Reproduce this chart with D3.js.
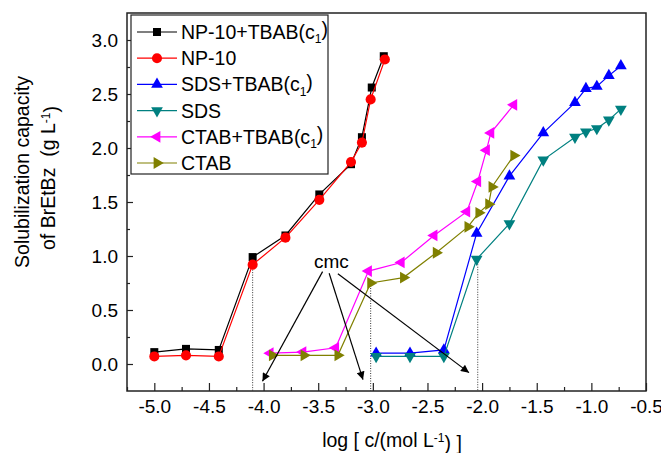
<!DOCTYPE html>
<html>
<head>
<meta charset="utf-8">
<script src="https://cdn.jsdelivr.net/npm/d3@7"></script>
<style>
  body { margin: 0; background: #fff; }
  svg text { font-family: "Liberation Sans", Arial, sans-serif; fill: #000; }
</style>
</head>
<body>
<script>
// values: [log c, capacity]
var npTbab = [[-5.0,0.11],[-4.71,0.14],[-4.41,0.13],[-4.10,0.99],[-3.80,1.19],[-3.49,1.57],[-3.20,1.85],[-3.10,2.10],[-3.01,2.56],[-2.90,2.85]];
var np10 = [[-5.0,0.07],[-4.71,0.08],[-4.41,0.07],[-4.10,0.92],[-3.80,1.17],[-3.49,1.52],[-3.20,1.87],[-3.10,2.05],[-3.02,2.45],[-2.89,2.82]];
var sdsTbab = [[-2.97,0.10],[-2.66,0.10],[-2.35,0.13],[-2.05,1.21],[-1.75,1.74],[-1.44,2.14],[-1.15,2.42],[-1.05,2.55],[-0.95,2.57],[-0.84,2.67],[-0.73,2.76]];
var sds = [[-2.97,0.07],[-2.66,0.07],[-2.35,0.07],[-2.05,0.97],[-1.75,1.30],[-1.44,1.89],[-1.15,2.10],[-1.05,2.15],[-0.95,2.18],[-0.84,2.26],[-0.73,2.36]];
var ctabTbab = [[-3.94,0.10],[-3.64,0.11],[-3.34,0.15],[-3.04,0.86],[-2.74,0.94],[-2.44,1.19],[-2.14,1.41],[-2.04,1.69],[-1.96,1.98],[-1.92,2.14],[-1.71,2.40]];
var ctab = [[-3.92,0.08],[-3.63,0.08],[-3.32,0.08],[-3.02,0.75],[-2.72,0.80],[-2.42,1.03],[-2.13,1.27],[-2.03,1.40],[-1.94,1.48],[-1.91,1.64],[-1.71,1.93]];

var seriesNames = ["NP-10+TBAB(c", "NP-10", "SDS+TBAB(c", "SDS", "CTAB+TBAB(c", "CTAB"];
var seriesSub = ["1", "", "1", "", "1", ""];
var seriesColors = ["#000000", "#ff0000", "#0000ff", "#008080", "#ff00ff", "#808000"];

var xTicks = [-5.0, -4.5, -4.0, -3.5, -3.0, -2.5, -2.0, -1.5, -1.0, -0.5];
var yTicks = [0.0, 0.5, 1.0, 1.5, 2.0, 2.5, 3.0];

// cmc marks: dotted drops and arrows
var cmcX = [-4.10, -3.02, -2.04];
var cmcY = [0.92, 0.75, 0.97];
var arrowFrom = [[-3.46,0.855],[-3.40,0.84],[-3.32,0.835]];
var arrowTo = [[-4.01,-0.16],[-3.09,-0.145],[-2.12,-0.08]];

var W = 661, H = 453;
var mLeft = 127, mRight = 646, mTop = 13, mBottom = 391;

var svg = d3.select("body").append("svg")
    .attr("width", W)
    .attr("height", H);

var x = d3.scaleLinear().domain([-5.25, -0.5]).range([mLeft, mRight]);
var y = d3.scaleLinear().domain([-0.25, 3.25]).range([mBottom, mTop]);

var fmt = function(d){ return d.toFixed(1); };

// minor ticks
svg.append("g")
    .attr("transform", "translate(0," + mBottom + ")")
    .call(d3.axisBottom(x).tickValues(d3.range(-5.25, -0.5, 0.5)).tickSize(-4).tickFormat(""))
    .call(function(g){ g.select(".domain").remove(); });
svg.append("g")
    .attr("transform", "translate(" + mLeft + ",0)")
    .call(d3.axisLeft(y).tickValues(d3.range(0.25, 3.25, 0.5)).tickSize(-3).tickFormat(""))
    .call(function(g){ g.select(".domain").remove(); });

// major ticks
var xAxis = svg.append("g")
    .attr("transform", "translate(0," + mBottom + ")")
    .call(d3.axisBottom(x).tickValues(xTicks).tickSize(-8).tickPadding(9).tickFormat(fmt));
var yAxis = svg.append("g")
    .attr("transform", "translate(" + mLeft + ",0)")
    .call(d3.axisLeft(y).tickValues(yTicks).tickSize(-6).tickPadding(9).tickFormat(fmt));
[xAxis, yAxis].forEach(function(g){
    g.select(".domain").remove();
    g.selectAll("text").style("font-size", "19px").attr("font-family", null);
});

svg.selectAll("g.tick line").attr("stroke", "#222").attr("stroke-width", 1.2);

// frame
svg.append("rect")
    .attr("x", mLeft).attr("y", mTop)
    .attr("width", mRight - mLeft).attr("height", mBottom - mTop)
    .attr("fill", "none").attr("stroke", "#222").attr("stroke-width", 1.5);

// dotted cmc drops
svg.selectAll(".drop")
    .data(cmcX)
    .enter().append("line")
    .attr("x1", function(d){ return x(d); })
    .attr("x2", function(d){ return x(d); })
    .attr("y1", function(d, i){ return y(cmcY[i]); })
    .attr("y2", mBottom)
    .attr("stroke", "#333").attr("stroke-width", 1)
    .attr("stroke-dasharray", "1,1.5");

// series
var allSeries = [npTbab, np10, sdsTbab, sds, ctabTbab, ctab];
var symbols = [
    {type: d3.symbolSquare, size: 64, rot: 0},
    {type: d3.symbolCircle, size: 80, rot: 0},
    {type: d3.symbolTriangle, size: 60, rot: 0},
    {type: d3.symbolTriangle, size: 60, rot: 180},
    {type: d3.symbolTriangle, size: 60, rot: -90},
    {type: d3.symbolTriangle, size: 60, rot: 90}
];

var line = d3.line()
    .x(function(d){ return x(d[0]); })
    .y(function(d){ return y(d[1]); });

allSeries.forEach(function(data, i){
    svg.append("path")
        .datum(data)
        .attr("d", line)
        .attr("fill", "none")
        .attr("stroke", seriesColors[i])
        .attr("stroke-width", 1.2);
    svg.selectAll(".pt" + i)
        .data(data)
        .enter().append("path")
        .attr("d", d3.symbol().type(symbols[i].type).size(symbols[i].size))
        .attr("transform", function(d){
            return "translate(" + x(d[0]) + "," + y(d[1]) + ") rotate(" + symbols[i].rot + ")";
        })
        .attr("fill", seriesColors[i]);
});

// cmc annotation
svg.append("defs").append("marker")
    .attr("id", "head")
    .attr("viewBox", "0 0 10 10")
    .attr("refX", 10).attr("refY", 5)
    .attr("markerWidth", 10).attr("markerHeight", 8)
    .attr("markerUnits", "userSpaceOnUse")
    .attr("orient", "auto")
    .append("path").attr("d", "M0,0L10,5L0,10Z").attr("fill", "#000");

svg.selectAll(".arrow")
    .data(arrowFrom)
    .enter().append("line")
    .attr("x1", function(d){ return x(d[0]); })
    .attr("y1", function(d){ return y(d[1]); })
    .attr("x2", function(d, i){ return x(arrowTo[i][0]); })
    .attr("y2", function(d, i){ return y(arrowTo[i][1]); })
    .attr("stroke", "#000").attr("stroke-width", 1.2)
    .attr("marker-end", "url(#head)");

svg.append("text")
    .attr("x", x(-3.38)).attr("y", y(0.95))
    .attr("dy", "0.35em")
    .attr("text-anchor", "middle")
    .style("font-size", "19px")
    .text("cmc");

// legend
var lg = svg.append("g");
lg.append("rect")
    .attr("x", 131).attr("y", 15)
    .attr("width", 197).attr("height", 159)
    .attr("fill", "#fff").attr("stroke", "#222").attr("stroke-width", 1.2);

seriesNames.forEach(function(name, i){
    var ly = 32 + i * 26.2;
    lg.append("line")
        .attr("x1", 137).attr("x2", 177)
        .attr("y1", ly).attr("y2", ly)
        .attr("stroke", seriesColors[i]).attr("stroke-width", 1.2);
    lg.append("path")
        .attr("d", d3.symbol().type(symbols[i].type).size(symbols[i].size)())
        .attr("transform", "translate(157," + ly + ") rotate(" + symbols[i].rot + ")")
        .attr("fill", seriesColors[i]);
    var t = lg.append("text")
        .attr("x", 181).attr("y", ly)
        .attr("dy", "0.36em")
        .style("font-size", "19.5px");
    t.append("tspan").text(name);
    if (seriesSub[i]) {
        t.append("tspan").attr("dy", "0.35em").style("font-size", "12px").text(seriesSub[i]);
        t.append("tspan").attr("dy", "-0.35em").text(")");
    }
});

// axis titles
var xt = svg.append("text")
    .attr("x", 392).attr("y", 447)
    .attr("text-anchor", "middle")
    .style("font-size", "19.5px");
xt.append("tspan").text("log [ c/(mol L");
xt.append("tspan").attr("dy", "-0.45em").style("font-size", "12px").text("-1");
xt.append("tspan").attr("dy", "0.45em").text(") ]");

svg.append("text")
    .attr("transform", "translate(29,172) rotate(-90)")
    .attr("text-anchor", "middle")
    .style("font-size", "19.5px")
    .text("Solubilization capacity");

var yt2 = svg.append("text")
    .attr("transform", "translate(55,178) rotate(-90)")
    .attr("text-anchor", "middle")
    .style("font-size", "19.5px");
yt2.append("tspan").text("of BrEtBz\u00a0\u00a0(g L");
yt2.append("tspan").attr("dy", "-0.45em").style("font-size", "12px").text("-1");
yt2.append("tspan").attr("dy", "0.45em").text(")");
</script>
</body>
</html>
